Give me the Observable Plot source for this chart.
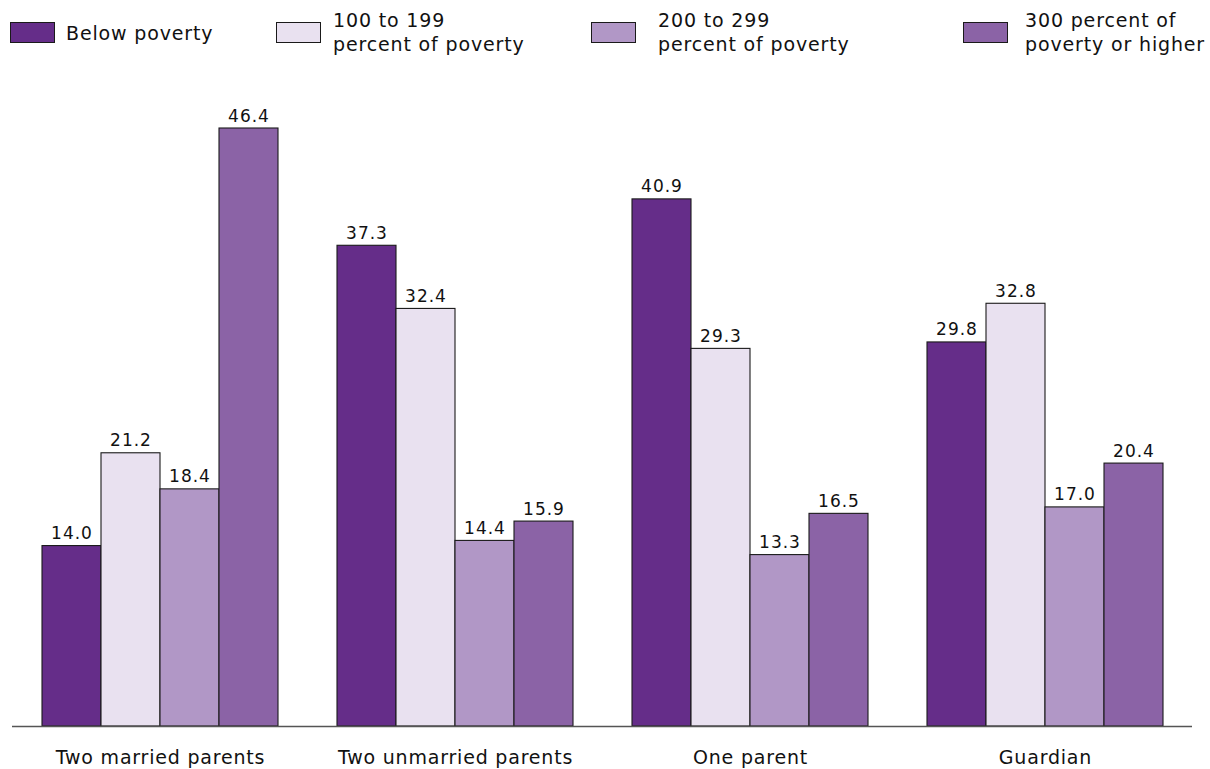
<!DOCTYPE html>
<html>
<head>
<meta charset="utf-8">
<script src="https://cdn.jsdelivr.net/npm/d3@7"></script>
<script src="https://cdn.jsdelivr.net/npm/@observablehq/plot@0.6"></script>
<style>
  html, body { margin: 0; padding: 0; background: #fff; }
  body { width: 1210px; height: 769px; overflow: hidden; font-family: "DejaVu Sans", sans-serif; color: #111; }
  #legend { position: relative; height: 70px; }
  .sw { position: absolute; width: 43px; height: 19px; border: 1px solid #1a1a1a; box-sizing: content-box; }
  .lt { position: absolute; font-size: 19px; line-height: 24px; letter-spacing: 0.85px; white-space: nowrap; }
</style>
</head>
<body>
<div id="legend"></div>
<div id="chart"></div>
<script>
// ---- data ----
const groups = ["Two married parents", "Two unmarried parents", "One parent", "Guardian"];
const seriesNames = ["Below poverty", "100 to 199 percent of poverty", "200 to 299 percent of poverty", "300 percent of poverty or higher"];
const legendLines = [["Below poverty"], ["100 to 199", "percent of poverty"], ["200 to 299", "percent of poverty"], ["300 percent of", "poverty or higher"]];
const belowPoverty = [14.0, 37.3, 40.9, 29.8];
const pct100to199 = [21.2, 32.4, 29.3, 32.8];
const pct200to299 = [18.4, 14.4, 13.3, 17.0];
const pct300plus = [46.4, 15.9, 16.5, 20.4];
const seriesColors = ["#652d89", "#e9e1f0", "#b197c6", "#8b63a6"];

const seriesValues = [belowPoverty, pct100to199, pct200to299, pct300plus];
const rows = [];
seriesNames.forEach((s, si) => groups.forEach((g, gi) => rows.push({group: g, series: s, si, value: seriesValues[si][gi]})));

// ---- legend (HTML) ----
const legendPos = [
  {sx: 10, tx: 66}, {sx: 276, tx: 333}, {sx: 591, tx: 658}, {sx: 963, tx: 1025}
];
const legend = document.getElementById("legend");
legendLines.forEach((lines, i) => {
  const sw = document.createElement("div");
  sw.className = "sw";
  sw.style.left = legendPos[i].sx + "px";
  sw.style.top = "22px";
  sw.style.background = seriesColors[i];
  legend.appendChild(sw);
  const t = document.createElement("div");
  t.className = "lt";
  t.style.left = legendPos[i].tx + "px";
  t.style.top = (lines.length === 1 ? 21 : 8) + "px";
  t.innerHTML = lines.join("<br>");
  legend.appendChild(t);
});

// ---- chart ----
const W = 1210, H = 699;
function build(q) {
  const marks = [];
  seriesNames.forEach((s, si) => {
    const d = rows.filter(r => r.si === si);
    marks.push(Plot.barY(d, {
      x: "group", y: "value", fill: seriesColors[si],
      stroke: "#1a1a1a", strokeWidth: 1.1,
      insetLeft: si * q, insetRight: (3 - si) * q
    }));
    marks.push(Plot.text(d, {
      x: "group", y: "value", text: d => d.value.toFixed(1),
      dx: (si - 1.5) * q, dy: -7, lineAnchor: "bottom",
      fontSize: 17, fill: "#111"
    }));
  });
  marks.push(Plot.ruleY([0], {stroke: "#555", strokeWidth: 1.6}));
  return Plot.plot({
    width: W, height: H,
    marginLeft: 12, marginRight: 18, marginTop: 58, marginBottom: 43,
    style: {fontFamily: "DejaVu Sans, sans-serif", fontSize: "19px", color: "#111", background: "#fff"},
    x: {domain: groups, paddingInner: 0.2, paddingOuter: 0.098, tickSize: 0, tickPadding: 24, label: null},
    y: {domain: [0, d3.max(rows, r => r.value)], axis: null},
    marks
  });
}
const probe = build(0);
const q = probe.scale("x").bandwidth / 4;
const chart = build(q);
chart.querySelectorAll("[aria-label='x-axis'] text, g[aria-label='x-axis tick label'] text").forEach(t => t.setAttribute("letter-spacing", "0.8"));
chart.querySelectorAll("g[aria-label='text'] text").forEach(t => t.setAttribute("letter-spacing", "1"));
document.getElementById("chart").appendChild(chart);
</script>
</body>
</html>
